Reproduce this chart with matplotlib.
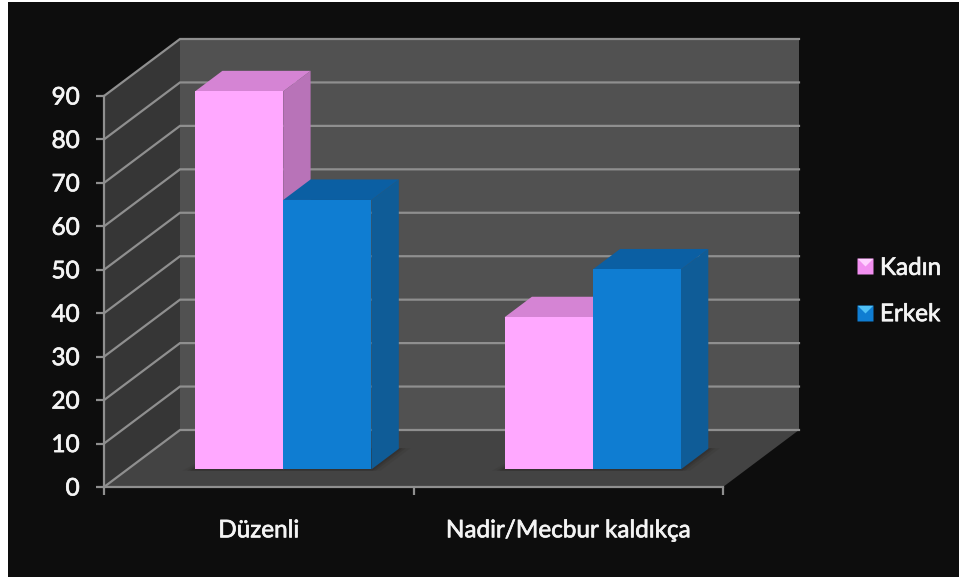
# plot.py - 3D look bar chart (Kadin / Erkek) drawn on plain 2D axes
import matplotlib
matplotlib.use("Agg")
import matplotlib.pyplot as plt
import matplotlib.patheffects as pe
from matplotlib.lines import Line2D
from matplotlib.legend_handler import HandlerTuple
from matplotlib.patches import Polygon, Rectangle

# data
categories = ["Düzenli", "Nadir/Mecbur kaldıkça"]
kadin = [87, 35]
erkek = [62, 46]
y_ticks = [0, 10, 20, 30, 40, 50, 60, 70, 80, 90]

W, H = 959, 579
# front plane of the chart in pixels
LEFT, RIGHT, BOTTOM, TOP = 104, 723, 487, 96

# oblique depth, in data units
DX = 76 / 309.5
DY = 57 / 4.344
BAR_D0 = 0.31
BAR_D1 = 0.67
BAR_W = 0.285
BAR_SHIFT = 0.503

BG = "#0d0d0d"
GRID = "#8f8f8f"
TXT = "#f4f4f4"
THICK = [pe.withStroke(linewidth=0.5, foreground=TXT)]
plt.rcParams["font.family"] = ["Lato", "DejaVu Sans"]


def proj(x, y, d):
    return (x + d * DX, y + d * DY)


def face(ax, pts, color, z, alpha=1.0):
    ax.add_patch(Polygon(pts, closed=True, fc=color, ec="none", alpha=alpha, zorder=z, clip_on=False))


def bar3d(ax, x0, x1, val, front, top, side, z):
    # front, top and right side of one block
    face(ax, [proj(x1, 0, BAR_D0), proj(x1, 0, BAR_D1), proj(x1, val, BAR_D1), proj(x1, val, BAR_D0)], side, z)
    face(ax, [proj(x0, val, BAR_D0), proj(x1, val, BAR_D0), proj(x1, val, BAR_D1), proj(x0, val, BAR_D1)], top, z)
    face(ax, [proj(x0, 0, BAR_D0), proj(x1, 0, BAR_D0), proj(x1, val, BAR_D0), proj(x0, val, BAR_D0)], front, z + 0.1)


def shadow(ax, x0, x1):
    # soft dark patch on the floor under a block
    for grow, a in [(0.035, 0.12), (0.02, 0.2), (0.01, 0.3)]:
        face(ax, [proj(x0 - grow, 0, BAR_D0 - 0.025), proj(x1 + grow, 0, BAR_D0 - 0.025),
                  proj(x1 + grow, 0, BAR_D1 + 0.01), proj(x0, 0, BAR_D1 + 0.01)], "#2a2522", 2.5, alpha=a)


fig = plt.figure(figsize=(W / 100, H / 100), dpi=100, facecolor="white")
fig.add_artist(Rectangle((8 / W, 2 / H), (W - 8) / W, (H - 4) / H, transform=fig.transFigure, fc=BG, ec="none", zorder=-5))

ax = fig.add_axes([LEFT / W, 1 - BOTTOM / H, (RIGHT - LEFT) / W, (BOTTOM - TOP) / H])
ax.patch.set_visible(False)
ax.set_xlim(0, len(categories))
ax.set_ylim(0, 90)

xmax = len(categories)
ymax = max(y_ticks)

# walls and floor
face(ax, [proj(0, 0, 1), proj(xmax, 0, 1), proj(xmax, ymax, 1), proj(0, ymax, 1)], "#515151", 1)
face(ax, [proj(0, 0, 0), proj(0, 0, 1), proj(0, ymax, 1), proj(0, ymax, 0)], "#363636", 1)
face(ax, [proj(0, 0, 0), proj(xmax, 0, 0), proj(xmax, 0, 1), proj(0, 0, 1)], "#434343", 1)

# grid on back and side wall
for t in y_ticks:
    x0, y0 = proj(0, t, 0)
    x1, y1 = proj(0, t, 1)
    x2, y2 = proj(xmax, t, 1)
    ax.plot([x0, x1, x2], [y0, y1, y2], color=GRID, lw=1.6, zorder=2, clip_on=False, solid_joinstyle="miter")

# blocks
for i in range(len(categories)):
    c = i + BAR_SHIFT
    shadow(ax, c - BAR_W, c + BAR_W)
    bar3d(ax, c - BAR_W, c, kadin[i], "#ffa8ff", "#d584d4", "#b873b8", 3 + i)
    bar3d(ax, c, c + BAR_W, erkek[i], "#0f7dd2", "#0b5fa3", "#0f5c97", 3.3 + i)

# axes
for s in ["top", "right"]:
    ax.spines[s].set_visible(False)
for s in ["left", "bottom"]:
    ax.spines[s].set_color(GRID)
    ax.spines[s].set_linewidth(1.6)
    ax.spines[s].set_zorder(6)
ax.set_yticks(y_ticks)
ax.set_xticks(range(xmax + 1))
ax.set_xticklabels([])
ax.set_xticks([i + 0.5 for i in range(xmax)], categories, minor=True)
ax.tick_params(axis="both", which="major", color=GRID, width=1.6, length=6, direction="out")
ax.tick_params(axis="y", labelcolor=TXT, labelsize=17.5, pad=11.5)
ax.tick_params(axis="x", which="minor", length=0, labelcolor=TXT, labelsize=17.5, pad=24)
for lab in ax.get_yticklabels() + ax.get_xticklabels(minor=True):
    lab.set_path_effects(THICK)

# legend, square with a lighter notch on top
notch = [(-1, 1), (1, 1), (0, 0)]
handles = []
for c, c2 in [("#f28ff0", "#ffd0ff"), ("#0f7dd2", "#4fc0f5")]:
    sq = Line2D([], [], ls="none", marker="s", ms=11, mfc=c, mec="none")
    tri = Line2D([], [], ls="none", marker=notch, ms=11, mfc=c2, mec="none")
    handles.append((sq, tri))
leg = fig.legend(handles, ["Kadın", "Erkek"], handler_map={tuple: HandlerTuple(ndivide=1, pad=0)},
                 loc="center left", bbox_to_anchor=(855 / W, 1 - 291.5 / H), frameon=False, fontsize=17.5,
                 labelcolor=TXT, handlelength=0.85, handletextpad=0.175, labelspacing=1.04, borderpad=0, borderaxespad=0)
for t in leg.get_texts():
    t.set_path_effects(THICK)

fig.savefig("out.png", dpi=100, facecolor=fig.get_facecolor())
